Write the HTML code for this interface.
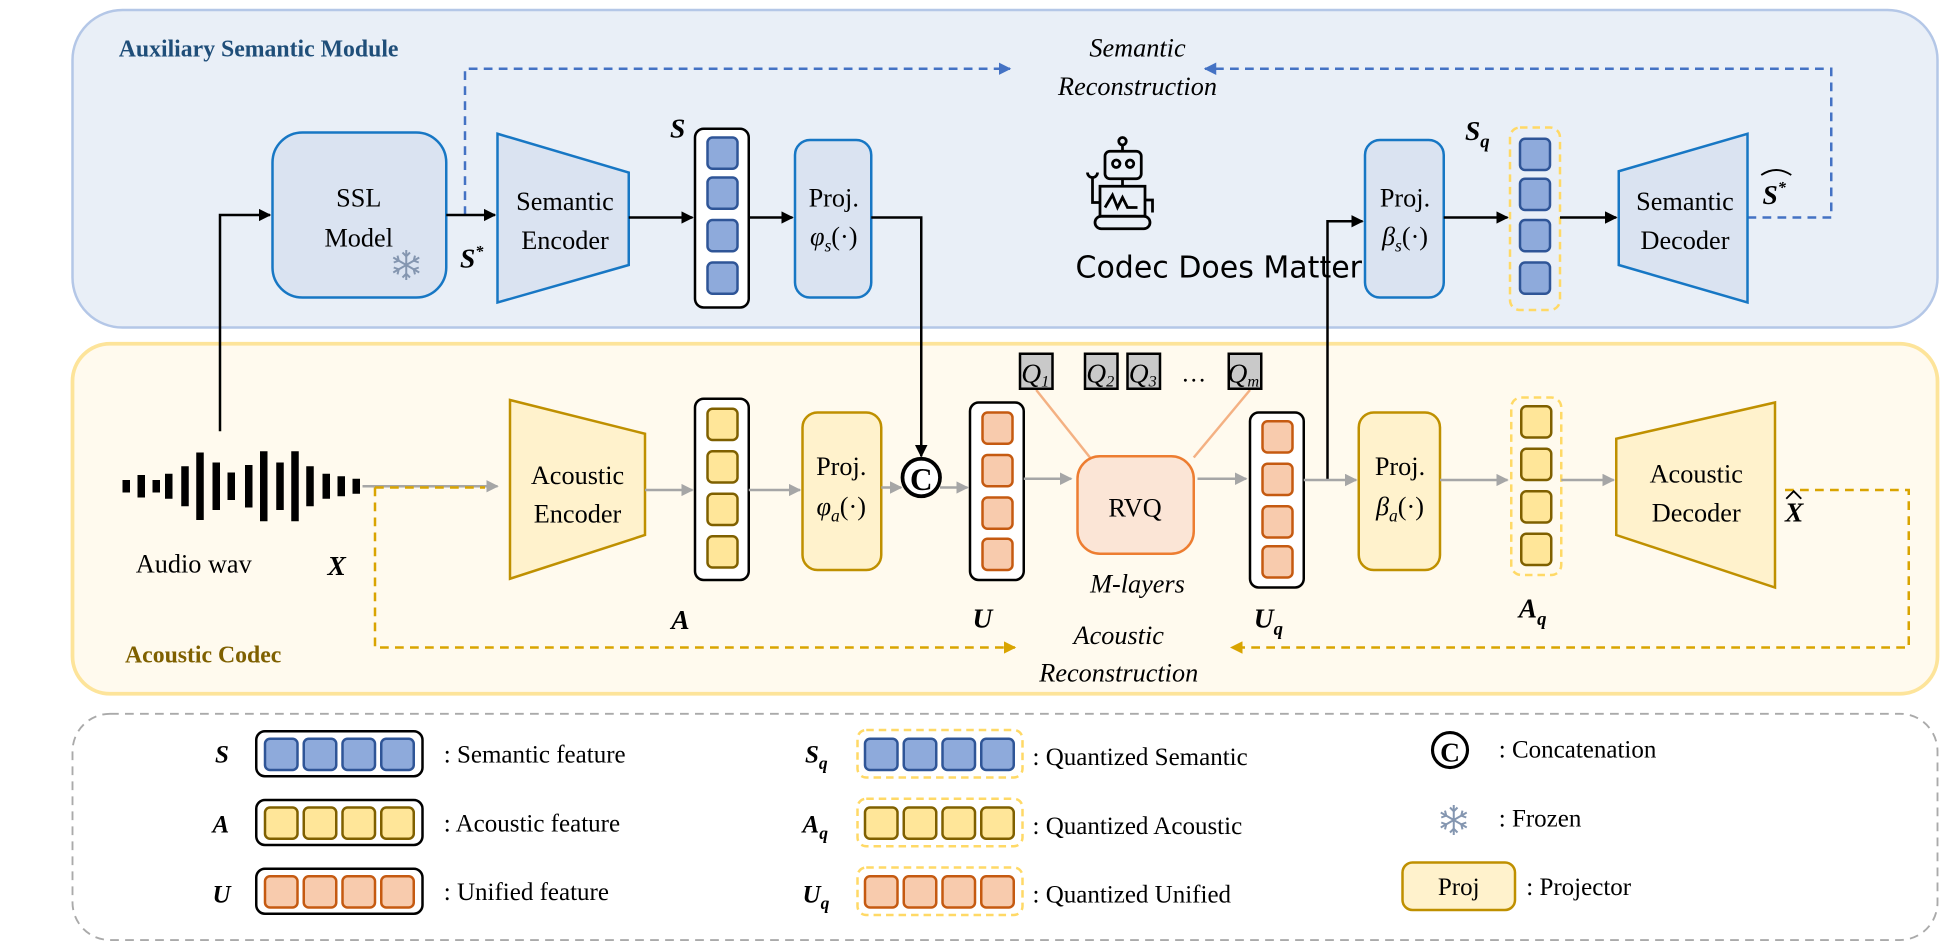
<!DOCTYPE html>
<html><head><meta charset="utf-8"><style>
html,body{margin:0;padding:0;background:#fff;width:1958px;height:949px;overflow:hidden}
svg{display:block;font-family:"Liberation Serif",serif}
svg text{font-family:"Liberation Serif",serif}
.t{font-size:21px;text-anchor:middle}
.bi{font-weight:bold;font-style:italic}
.it{font-style:italic}
.lg{font-size:20px}
</style></head><body>
<svg width="1958" height="949" viewBox="0 0 1566.4 759.2" preserveAspectRatio="none" xmlns="http://www.w3.org/2000/svg" font-family="Liberation Serif, serif">
<defs>
<marker id="ak" markerWidth="10" markerHeight="10" refX="9" refY="5" orient="auto" markerUnits="userSpaceOnUse"><path d="M0,0 L10,5 L0,10z" fill="#000"/></marker>
<marker id="ag" markerWidth="10" markerHeight="10" refX="9" refY="5" orient="auto" markerUnits="userSpaceOnUse"><path d="M0,0 L10,5 L0,10z" fill="#a6a6a6"/></marker>
<marker id="ab" markerWidth="10" markerHeight="10" refX="9" refY="5" orient="auto" markerUnits="userSpaceOnUse"><path d="M0,0 L10,5 L0,10z" fill="#4472c4"/></marker>
<marker id="ay" markerWidth="10" markerHeight="10" refX="9" refY="5" orient="auto" markerUnits="userSpaceOnUse"><path d="M0,0 L10,5 L0,10z" fill="#d9a400"/></marker>
<g id="snow" stroke="#8496b0" stroke-width="1.6" fill="none">
<path d="M0,-12V12M-10.4,-6L10.4,6M-10.4,6L10.4,-6"/>
<path d="M-3,-10L0,-7L3,-10M-3,10L0,7L3,10M-10,-2L-6,-3.5L-7,-7.5M10,2L6,3.5L7,7.5M10,-2L6,-3.5L7,-7.5M-10,2L-6,3.5L-7,7.5"/>
</g>
</defs>

<rect x="58" y="8" width="1492" height="254" rx="40" fill="#e9eff7" stroke="#b4c7e7" stroke-width="2"/>
<rect x="58" y="275" width="1492" height="280" rx="30" fill="#fffaee" stroke="#fde49a" stroke-width="3"/>
<rect x="58" y="571" width="1492" height="181" rx="30" fill="#fff" stroke="#aaa" stroke-width="1.5" stroke-dasharray="7,5"/>

<text x="95" y="45" font-size="19" font-weight="bold" fill="#1f4e79">Auxiliary Semantic Module</text>
<text x="100" y="530" font-size="19" font-weight="bold" fill="#7f6000">Acoustic Codec</text>

<path d="M372,172 V55 H808" fill="none" stroke="#4472c4" stroke-width="2" stroke-dasharray="7,5" marker-end="url(#ab)"/>
<path d="M1398,174 H1465 V55 H964" fill="none" stroke="#4472c4" stroke-width="2" stroke-dasharray="7,5" marker-end="url(#ab)"/>
<text x="910" y="45" class="t it">Semantic</text>
<text x="910" y="76" class="t it">Reconstruction</text>

<path d="M300,390 V518 H812" fill="none" stroke="#d9a400" stroke-width="2" stroke-dasharray="7,5" marker-end="url(#ay)"/>
<path d="M1428,392 H1527 V518 H985" fill="none" stroke="#d9a400" stroke-width="2" stroke-dasharray="7,5" marker-end="url(#ay)"/>
<text x="895" y="515" class="t it">Acoustic</text>
<text x="895" y="545" class="t it">Reconstruction</text>

<path d="M176,345 V172 H216" fill="none" stroke="#000" stroke-width="2" marker-end="url(#ak)"/>
<rect x="218" y="106" width="139" height="132" rx="24" fill="#dae3f1" stroke="#1777c4" stroke-width="2"/>
<text x="287" y="165" class="t">SSL</text>
<text x="287" y="197" class="t">Model</text>
<use href="#snow" x="325" y="212"/>
<line x1="357" y1="172" x2="396" y2="172" stroke="#000" stroke-width="2" marker-end="url(#ak)"/>
<text x="368" y="214" font-size="22" class="bi">S<tspan font-size="13" dy="-9">*</tspan></text>

<path d="M398,107 L503,138 L503,212 L398,242z" fill="#dae3f1" stroke="#1777c4" stroke-width="2"/>
<text x="452" y="168" class="t">Semantic</text>
<text x="452" y="199" class="t">Encoder</text>
<line x1="503" y1="174" x2="554" y2="174" stroke="#000" stroke-width="2" marker-end="url(#ak)"/>

<text x="536" y="110" font-size="22" class="bi">S</text>
<rect x="556" y="103" width="43" height="143" rx="7" fill="#fff" stroke="#000" stroke-width="2"/>
<g fill="#8eaadb" stroke="#2f5597" stroke-width="2">
<rect x="566" y="110" width="24" height="25" rx="4"/><rect x="566" y="142" width="24" height="25" rx="4"/><rect x="566" y="176" width="24" height="25" rx="4"/><rect x="566" y="210" width="24" height="25" rx="4"/></g>
<line x1="599" y1="174" x2="634" y2="174" stroke="#000" stroke-width="2" marker-end="url(#ak)"/>

<rect x="636" y="112" width="61" height="126" rx="12" fill="#dae3f1" stroke="#1777c4" stroke-width="2"/>
<text x="667" y="165" class="t">Proj.</text>
<text x="667" y="196" class="t"><tspan class="it">φ</tspan><tspan font-size="14" class="it" dy="5">s</tspan><tspan dy="-5">(·)</tspan></text>
<path d="M697,174 H737 V365" fill="none" stroke="#000" stroke-width="2" marker-end="url(#ak)"/>

<text x="975" y="222" font-size="24" text-anchor="middle" style="font-family:'DejaVu Sans',sans-serif">Codec Does Matter</text>
<g fill="none" stroke="#000" stroke-width="2.2">
<circle cx="898" cy="113" r="3"/><line x1="898" y1="116" x2="898" y2="121"/>
<rect x="884" y="121" width="29" height="22" rx="4"/><circle cx="893" cy="131" r="3"/><circle cx="904" cy="131" r="3"/>
<line x1="898" y1="143" x2="898" y2="149"/>
<rect x="880" y="149" width="36" height="24"/>
<path d="M884,166 L890,156 L894,166 L898,158 L902,166 H910"/>
<path d="M880,162 H874 V142 M870,138 A4,4 0 0 0 878,138"/>
<path d="M916,160 H922 V170"/>
<rect x="876" y="173" width="44" height="10" rx="5"/>
</g>

<path d="M1062,384 V177 H1090" fill="none" stroke="#000" stroke-width="2" marker-end="url(#ak)"/>
<rect x="1092" y="112" width="63" height="126" rx="12" fill="#dae3f1" stroke="#1777c4" stroke-width="2"/>
<text x="1124" y="165" class="t">Proj.</text>
<text x="1124" y="196" class="t"><tspan class="it">β</tspan><tspan font-size="14" class="it" dy="5">s</tspan><tspan dy="-5">(·)</tspan></text>
<line x1="1155" y1="174" x2="1206" y2="174" stroke="#000" stroke-width="2" marker-end="url(#ak)"/>

<text x="1172" y="112" font-size="22" class="bi">S<tspan font-size="15" dy="6">q</tspan></text>
<rect x="1208" y="102" width="40" height="146" rx="8" fill="none" stroke="#ffd966" stroke-width="2" stroke-dasharray="6,4"/>
<g fill="#8eaadb" stroke="#2f5597" stroke-width="2">
<rect x="1216" y="111" width="24" height="25" rx="4"/><rect x="1216" y="143" width="24" height="25" rx="4"/><rect x="1216" y="176" width="24" height="25" rx="4"/><rect x="1216" y="210" width="24" height="25" rx="4"/></g>
<line x1="1248" y1="174" x2="1293" y2="174" stroke="#000" stroke-width="2" marker-end="url(#ak)"/>

<path d="M1295,137 L1398,107 L1398,242 L1295,212z" fill="#dae3f1" stroke="#1777c4" stroke-width="2"/>
<text x="1348" y="168" class="t">Semantic</text>
<text x="1348" y="199" class="t">Decoder</text>
<text x="1410" y="163" font-size="22" class="bi">S<tspan font-size="13" dy="-9">*</tspan></text>
<path d="M1409,140 Q1421,132 1433,140" fill="none" stroke="#000" stroke-width="1.5"/>

<g fill="#000">
<rect x="98" y="384" width="6" height="10"/><rect x="110" y="380" width="6" height="18"/><rect x="122" y="384" width="6" height="10"/><rect x="132" y="379" width="6" height="20"/><rect x="145" y="373" width="6" height="32"/><rect x="157" y="362" width="6" height="54"/><rect x="170" y="370" width="6" height="38"/><rect x="182" y="378" width="6" height="22"/><rect x="196" y="372" width="6" height="34"/><rect x="208" y="361" width="6" height="56"/><rect x="221" y="370" width="6" height="38"/><rect x="233" y="361" width="6" height="56"/><rect x="245" y="373" width="6" height="32"/><rect x="258" y="379" width="6" height="20"/><rect x="270" y="381" width="6" height="16"/><rect x="282" y="383" width="6" height="12"/>
</g>
<text x="155" y="458" class="t" font-size="22">Audio wav</text>
<text x="262" y="460" font-size="22" class="bi">X</text>
<line x1="290" y1="389" x2="398" y2="389" stroke="#a6a6a6" stroke-width="2" marker-end="url(#ag)"/>
<path d="M300,390 H388" stroke="#d9a400" stroke-width="2" stroke-dasharray="7,5"/>

<path d="M408,320 L516,347 L516,428 L408,463z" fill="#fff2cc" stroke="#bf9000" stroke-width="2"/>
<text x="462" y="387" class="t">Acoustic</text>
<text x="462" y="418" class="t">Encoder</text>
<line x1="516" y1="392" x2="554" y2="392" stroke="#a6a6a6" stroke-width="2" marker-end="url(#ag)"/>

<rect x="556" y="319" width="43" height="145" rx="7" fill="#fff" stroke="#000" stroke-width="2"/>
<g fill="#ffe699" stroke="#7f6000" stroke-width="2">
<rect x="566" y="327" width="24" height="25" rx="4"/><rect x="566" y="361" width="24" height="25" rx="4"/><rect x="566" y="395" width="24" height="25" rx="4"/><rect x="566" y="429" width="24" height="25" rx="4"/></g>
<text x="537" y="503" font-size="22" class="bi">A</text>
<line x1="599" y1="392" x2="640" y2="392" stroke="#a6a6a6" stroke-width="2" marker-end="url(#ag)"/>

<rect x="642" y="330" width="63" height="126" rx="12" fill="#fff2cc" stroke="#bf9000" stroke-width="2"/>
<text x="673" y="380" class="t">Proj.</text>
<text x="673" y="412" class="t"><tspan class="it">φ</tspan><tspan font-size="14" class="it" dy="5">a</tspan><tspan dy="-5">(·)</tspan></text>
<line x1="705" y1="390" x2="721" y2="390" stroke="#a6a6a6" stroke-width="2" marker-end="url(#ag)"/>
<circle cx="737" cy="382" r="15" fill="#fff" stroke="#000" stroke-width="3"/>
<text x="737" y="392" text-anchor="middle" font-size="25" font-weight="bold">C</text>
<line x1="752" y1="390" x2="774" y2="390" stroke="#a6a6a6" stroke-width="2" marker-end="url(#ag)"/>

<rect x="776" y="322" width="43" height="142" rx="7" fill="#fff" stroke="#000" stroke-width="2"/>
<g fill="#f8cbad" stroke="#c55a11" stroke-width="2">
<rect x="786" y="330" width="24" height="25" rx="4"/><rect x="786" y="364" width="24" height="25" rx="4"/><rect x="786" y="398" width="24" height="25" rx="4"/><rect x="786" y="431" width="24" height="25" rx="4"/></g>
<text x="778" y="502" font-size="22" class="bi">U</text>
<line x1="819" y1="383" x2="857" y2="383" stroke="#a6a6a6" stroke-width="2" marker-end="url(#ag)"/>

<line x1="829" y1="312" x2="872" y2="366" stroke="#f4b183" stroke-width="2"/>
<line x1="1000" y1="312" x2="955" y2="366" stroke="#f4b183" stroke-width="2"/>
<g fill="#c9c9c9" stroke="#000" stroke-width="2">
<rect x="816" y="283" width="26" height="28"/><rect x="868" y="283" width="26" height="28"/><rect x="902" y="283" width="26" height="28"/><rect x="983" y="283" width="26" height="28"/></g>
<g font-size="22" class="it">
<text x="817" y="306">Q<tspan font-size="13" dy="3">1</tspan></text>
<text x="869" y="306">Q<tspan font-size="13" dy="3">2</tspan></text>
<text x="903" y="306">Q<tspan font-size="13" dy="3">3</tspan></text>
<text x="982" y="306">Q<tspan font-size="13" dy="3">m</tspan></text>
</g>
<text x="955" y="305" font-size="20" text-anchor="middle">…</text>

<rect x="862" y="365" width="93" height="78" rx="18" fill="#fbe5d6" stroke="#ed7d31" stroke-width="2"/>
<text x="908" y="413" class="t" font-size="22">RVQ</text>
<text x="910" y="474" class="t it">M-layers</text>
<line x1="958" y1="383" x2="997" y2="383" stroke="#a6a6a6" stroke-width="2" marker-end="url(#ag)"/>

<rect x="1000" y="330" width="43" height="140" rx="7" fill="#fff" stroke="#000" stroke-width="2"/>
<g fill="#f8cbad" stroke="#c55a11" stroke-width="2">
<rect x="1010" y="337" width="24" height="25" rx="4"/><rect x="1010" y="371" width="24" height="25" rx="4"/><rect x="1010" y="405" width="24" height="25" rx="4"/><rect x="1010" y="437" width="24" height="25" rx="4"/></g>
<text x="1003" y="502" font-size="22" class="bi">U<tspan font-size="15" dy="6">q</tspan></text>
<line x1="1043" y1="384" x2="1062" y2="384" stroke="#a6a6a6" stroke-width="2"/>
<line x1="1062" y1="384" x2="1085" y2="384" stroke="#a6a6a6" stroke-width="2" marker-end="url(#ag)"/>

<rect x="1087" y="330" width="65" height="126" rx="12" fill="#fff2cc" stroke="#bf9000" stroke-width="2"/>
<text x="1120" y="380" class="t">Proj.</text>
<text x="1120" y="412" class="t"><tspan class="it">β</tspan><tspan font-size="14" class="it" dy="5">a</tspan><tspan dy="-5">(·)</tspan></text>
<line x1="1152" y1="384" x2="1206" y2="384" stroke="#a6a6a6" stroke-width="2" marker-end="url(#ag)"/>

<rect x="1209" y="318" width="40" height="142" rx="8" fill="none" stroke="#ffd966" stroke-width="2" stroke-dasharray="6,4"/>
<g fill="#ffe699" stroke="#7f6000" stroke-width="2">
<rect x="1217" y="325" width="24" height="25" rx="4"/><rect x="1217" y="359" width="24" height="25" rx="4"/><rect x="1217" y="393" width="24" height="25" rx="4"/><rect x="1217" y="427" width="24" height="25" rx="4"/></g>
<text x="1215" y="494" font-size="22" class="bi">A<tspan font-size="15" dy="6">q</tspan></text>
<line x1="1249" y1="384" x2="1291" y2="384" stroke="#a6a6a6" stroke-width="2" marker-end="url(#ag)"/>

<path d="M1293,351 L1420,322 L1420,470 L1293,428z" fill="#fff2cc" stroke="#bf9000" stroke-width="2"/>
<text x="1357" y="386" class="t">Acoustic</text>
<text x="1357" y="417" class="t">Decoder</text>
<text x="1428" y="417" font-size="22" class="bi">X</text>
<path d="M1429,399 L1435,393 L1441,399" fill="none" stroke="#000" stroke-width="1.5"/>

<g class="lg">
<text x="172" y="610" font-size="20" class="bi">S</text>
<text x="170" y="666" font-size="20" class="bi">A</text>
<text x="170" y="722" font-size="20" class="bi">U</text>
<rect x="205" y="585" width="133" height="36" rx="7" fill="#fff" stroke="#000" stroke-width="2"/>
<rect x="205" y="640" width="133" height="36" rx="7" fill="#fff" stroke="#000" stroke-width="2"/>
<rect x="205" y="695" width="133" height="36" rx="7" fill="#fff" stroke="#000" stroke-width="2"/>
<g fill="#8eaadb" stroke="#2f5597" stroke-width="2"><rect x="212" y="591" width="26" height="25" rx="4"/><rect x="243" y="591" width="26" height="25" rx="4"/><rect x="274" y="591" width="26" height="25" rx="4"/><rect x="305" y="591" width="26" height="25" rx="4"/>
<rect x="692" y="591" width="26" height="25" rx="4"/><rect x="723" y="591" width="26" height="25" rx="4"/><rect x="754" y="591" width="26" height="25" rx="4"/><rect x="785" y="591" width="26" height="25" rx="4"/></g>
<g fill="#ffe699" stroke="#7f6000" stroke-width="2"><rect x="212" y="646" width="26" height="25" rx="4"/><rect x="243" y="646" width="26" height="25" rx="4"/><rect x="274" y="646" width="26" height="25" rx="4"/><rect x="305" y="646" width="26" height="25" rx="4"/>
<rect x="692" y="646" width="26" height="25" rx="4"/><rect x="723" y="646" width="26" height="25" rx="4"/><rect x="754" y="646" width="26" height="25" rx="4"/><rect x="785" y="646" width="26" height="25" rx="4"/></g>
<g fill="#f8cbad" stroke="#c55a11" stroke-width="2"><rect x="212" y="701" width="26" height="25" rx="4"/><rect x="243" y="701" width="26" height="25" rx="4"/><rect x="274" y="701" width="26" height="25" rx="4"/><rect x="305" y="701" width="26" height="25" rx="4"/>
<rect x="692" y="701" width="26" height="25" rx="4"/><rect x="723" y="701" width="26" height="25" rx="4"/><rect x="754" y="701" width="26" height="25" rx="4"/><rect x="785" y="701" width="26" height="25" rx="4"/></g>
<g fill="none" stroke="#ffd966" stroke-width="2" stroke-dasharray="6,4"><rect x="686" y="584" width="132" height="38" rx="7"/><rect x="686" y="639" width="132" height="38" rx="7"/><rect x="686" y="694" width="132" height="38" rx="7"/></g>
<text x="355" y="610">: Semantic feature</text>
<text x="355" y="665">: Acoustic feature</text>
<text x="355" y="720">: Unified feature</text>
<text x="644" y="610" font-size="20" class="bi">S<tspan font-size="14" dy="5">q</tspan></text>
<text x="642" y="666" font-size="20" class="bi">A<tspan font-size="14" dy="5">q</tspan></text>
<text x="642" y="722" font-size="20" class="bi">U<tspan font-size="14" dy="5">q</tspan></text>
<text x="826" y="612">: Quantized Semantic</text>
<text x="826" y="667">: Quantized Acoustic</text>
<text x="826" y="722">: Quantized Unified</text>
<circle cx="1160" cy="600" r="14" fill="#fff" stroke="#000" stroke-width="2.5"/>
<text x="1160" y="609" text-anchor="middle" font-size="22" font-weight="bold">C</text>
<text x="1199" y="606">: Concatenation</text>
<use href="#snow" x="1163" y="656"/>
<text x="1199" y="661">: Frozen</text>
<rect x="1122" y="690" width="90" height="38" rx="8" fill="#fff2cc" stroke="#bf9000" stroke-width="2"/>
<text x="1167" y="716" text-anchor="middle">Proj</text>
<text x="1221" y="716">: Projector</text>
</g>
</svg>
</body></html>
